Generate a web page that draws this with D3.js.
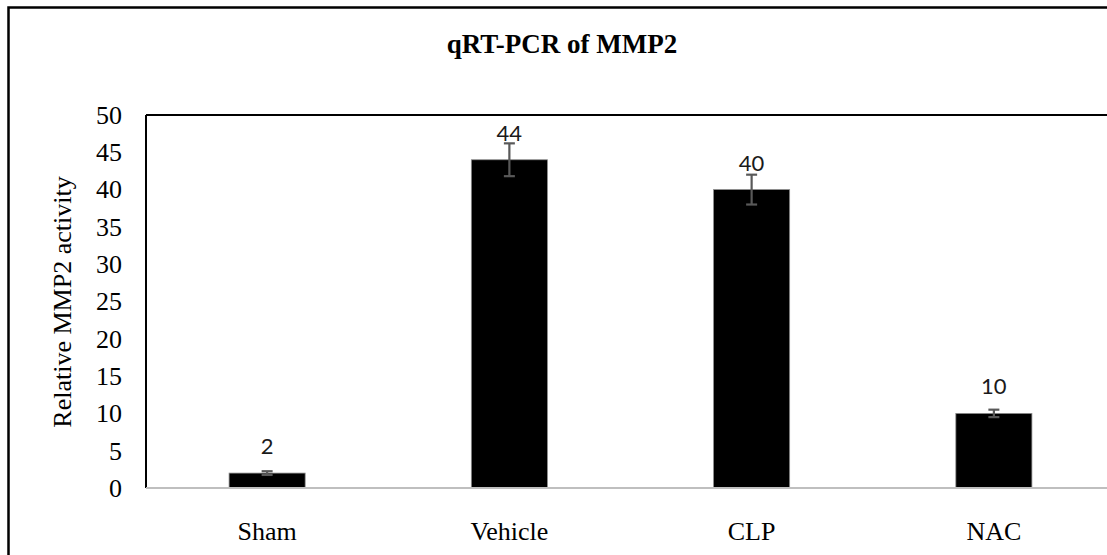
<!DOCTYPE html>
<html>
<head>
<meta charset="utf-8">
<script src="https://cdn.jsdelivr.net/npm/d3@7"></script>
<style>
  body { margin: 0; background: #fff; }
  svg { display: block; }
</style>
</head>
<body>
<svg id="chart" width="1107" height="555"></svg>
<script>
// chart data
const groups = ["Sham", "Vehicle", "CLP", "NAC"];
const meanValues = [2, 44, 40, 10];
const errValues = [0.25, 2.2, 2.0, 0.5];
const yTicks = [0, 5, 10, 15, 20, 25, 30, 35, 40, 45, 50];

const svg = d3.select("#chart");

// plot area (the right side runs off the picture, as in the original)
const plotLeft = 146, plotTop = 115, plotBottom = 488, plotRight = 1115;

// outer chart frame, also clipped on right and bottom
svg.append("rect")
    .attr("x", 8.5).attr("y", 7.5)
    .attr("width", 1130).attr("height", 600)
    .attr("fill", "none")
    .attr("stroke", "#000")
    .attr("stroke-width", 2.5);

const x = d3.scaleBand()
    .domain(groups)
    .range([plotLeft, plotRight])
    .paddingInner(0.686)
    .paddingOuter(0.343);

const y = d3.scaleLinear()
    .domain([0, 50])
    .range([plotBottom, plotTop]);

// title
svg.append("text")
    .attr("x", 562)
    .attr("y", 53)
    .attr("text-anchor", "middle")
    .style("font-family", "'Liberation Serif', 'Times New Roman', serif")
    .style("font-weight", "bold")
    .style("font-size", "27px")
    .text("qRT-PCR of MMP2");

// y axis title
svg.append("text")
    .attr("transform", "translate(71,302) rotate(-90)")
    .attr("text-anchor", "middle")
    .style("font-family", "'Liberation Serif', 'Times New Roman', serif")
    .style("font-size", "26px")
    .text("Relative MMP2 activity");

// y axis labels
const yAxis = svg.append("g")
    .attr("transform", `translate(${plotLeft},0)`)
    .call(d3.axisLeft(y).tickValues(yTicks).tickSize(0).tickPadding(24));
yAxis.select(".domain").remove();
yAxis.selectAll("text")
    .style("font-family", "'Liberation Serif', 'Times New Roman', serif")
    .style("font-size", "26px")
    .attr("fill", "#000");

// x axis labels
const xAxis = svg.append("g")
    .attr("transform", `translate(0,${plotBottom})`)
    .call(d3.axisBottom(x).tickSize(0));
xAxis.select(".domain").remove();
xAxis.selectAll("text")
    .attr("y", 52).attr("dy", null)
    .style("font-family", "'Liberation Serif', 'Times New Roman', serif")
    .style("font-size", "26px")
    .attr("fill", "#000");

// plot frame: top and left black, bottom axis grey
svg.append("line")
    .attr("x1", plotLeft).attr("x2", plotRight + 20)
    .attr("y1", plotTop).attr("y2", plotTop)
    .attr("stroke", "#000").attr("stroke-width", 2);
svg.append("line")
    .attr("x1", plotLeft).attr("x2", plotLeft)
    .attr("y1", plotTop).attr("y2", plotBottom)
    .attr("stroke", "#000").attr("stroke-width", 2);

// bars
svg.append("g").selectAll("rect")
    .data(groups)
    .join("rect")
    .attr("x", d => x(d))
    .attr("y", (d, i) => y(meanValues[i]))
    .attr("width", x.bandwidth())
    .attr("height", (d, i) => plotBottom - y(meanValues[i]))
    .attr("fill", "#000")
    .attr("stroke", "#8c8c8c")
    .attr("stroke-width", 0.8);

svg.append("line")
    .attr("x1", plotLeft).attr("x2", plotRight + 20)
    .attr("y1", plotBottom).attr("y2", plotBottom)
    .attr("stroke", "#bfbfbf").attr("stroke-width", 2);

// error bars
const errG = svg.append("g")
    .attr("stroke", "#595959")
    .attr("stroke-width", 2.2);
groups.forEach((g, i) => {
    const cx = x(g) + x.bandwidth() / 2;
    const hi = y(meanValues[i] + errValues[i]);
    const lo = y(meanValues[i] - errValues[i]);
    errG.append("line").attr("x1", cx).attr("x2", cx).attr("y1", hi).attr("y2", lo);
    errG.append("line").attr("x1", cx - 5.5).attr("x2", cx + 5.5).attr("y1", hi).attr("y2", hi);
    errG.append("line").attr("x1", cx - 5.5).attr("x2", cx + 5.5).attr("y1", lo).attr("y2", lo);
});

// value labels
svg.append("g").selectAll("text")
    .data(groups)
    .join("text")
    .attr("x", d => x(d) + x.bandwidth() / 2)
    .attr("y", (d, i) => y(meanValues[i]) - 19)
    .attr("text-anchor", "middle")
    .style("font-family", "Lato, Carlito, Calibri, sans-serif")
    .style("font-size", "22px")
    .attr("fill", "#1a1a1a")
    .text((d, i) => meanValues[i]);
</script>
</body>
</html>
